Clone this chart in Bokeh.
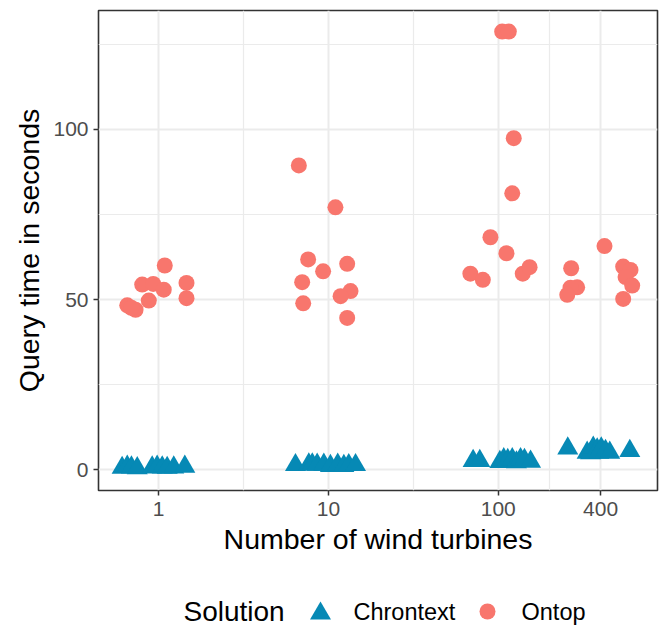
from bokeh.plotting import figure
from bokeh.models import Range1d, FixedTicker, PrintfTickFormatter
from bokeh.layouts import column
from bokeh.embed import file_html
from bokeh.resources import INLINE
from bokeh.core.properties import value

# ---------------- data ----------------
solutions = ["Chrontext", "Ontop"]
legend_title = "Solution"
turbine_ticks = [1, 10, 100, 400]
turbine_tick_labels = ["1", "10", "100", "400"]
y_ticks = [0, 50, 100]
y_tick_labels = ["0", "50", "100"]

# jittered x positions (number of wind turbines) and query times (s)
chrontext_x = [0.611, 0.655, 0.693, 0.750, 0.918, 0.982, 1.052, 1.125, 1.230, 1.429,
               6.40, 7.67, 8.04, 8.59, 9.40, 10.28, 11.35, 12.33, 13.18, 14.45,
               71.1, 77.8, 102.1, 107.7, 113.7, 120.8, 127.9, 135.2, 142.6, 154.9,
               256.4, 333.4, 349.1, 362.2, 381.9, 390.8, 403.6, 427.6, 452.9, 594.3]
chrontext_y = [0.6, 0.9, 0.7, 0.5, 0.7, 0.9, 0.7, 0.6, 0.7, 0.9,
               1.4, 1.6, 1.6, 1.5, 1.5, 1.15, 1.5, 1.15, 1.4, 1.4,
               2.6, 2.6, 2.3, 3.1, 2.9, 3.1, 2.2, 3.1, 2.9, 2.4,
               6.3, 5.05, 4.9, 6.5, 6.0, 5.0, 6.3, 5.55, 5.05, 5.55]

ontop_x = [1.089, 0.802, 0.931, 1.074, 1.462, 1.462, 0.877, 0.655, 0.733, 0.692,
           6.70, 11.0, 7.60, 12.9, 9.31, 7.01, 13.5, 11.8, 7.11, 12.9,
           105.4, 115.3, 123.3, 120.8, 89.9, 111.7, 68.5, 81.1, 139.3, 152.8,
           421.7, 268.5, 291.1, 266.1, 254.7, 543.3, 599.8, 561.0, 613.8, 543.3]
ontop_y = [60.0, 54.4, 54.6, 52.9, 54.9, 50.4, 49.7, 48.3, 47.0, 47.6,
           89.4, 77.1, 61.8, 60.5, 58.3, 55.1, 52.5, 51.0, 48.9, 44.6,
           128.7, 128.7, 97.4, 81.2, 68.3, 63.6, 57.6, 55.8, 57.6, 59.5,
           65.7, 59.2, 53.6, 53.5, 51.4, 59.7, 58.7, 56.6, 54.1, 50.2]

# ---------------- styling ----------------
FONT = "Liberation Sans"
C_CHRON = "#0689B5"
C_ONTOP = "#F8766D"
GRID = "#EBEBEB"
DARK = "#333333"

H_MAIN = 572
H_LEG = 633 - H_MAIN
LEFT, RIGHT_EDGE = 98, 657

p = figure(width=666, height=H_MAIN, x_axis_type="log",
           x_range=Range1d(10 ** -0.353, 10 ** 2.937),
           y_range=Range1d(-6.08, 134.9),
           output_backend="svg", toolbar_location=None,
           min_border_left=LEFT, min_border_right=666 - RIGHT_EDGE, min_border_top=10,
           min_border_bottom=H_MAIN - 490)

p.outline_line_color = DARK
p.outline_line_width = 1.6
p.background_fill_color = "white"
p.border_fill_color = "white"

xt = FixedTicker(ticks=turbine_ticks, minor_ticks=[10 ** 0.5, 10 ** 1.5, 200])
yt = FixedTicker(ticks=y_ticks, minor_ticks=[25, 75, 125])
p.xaxis.ticker = xt
p.yaxis.ticker = yt
p.xgrid.ticker = xt
p.ygrid.ticker = yt
p.xaxis.formatter = PrintfTickFormatter(format="%d")
p.xaxis.major_label_overrides = dict(zip(turbine_ticks, turbine_tick_labels))
p.yaxis.major_label_overrides = dict(zip(y_ticks, y_tick_labels))

for g in (p.xgrid, p.ygrid):
    g.grid_line_color = GRID
    g.grid_line_width = 2
    g.minor_grid_line_color = GRID
    g.minor_grid_line_width = 1.2

for ax in (p.xaxis, p.yaxis):
    ax.axis_line_color = None
    ax.major_tick_line_color = DARK
    ax.major_tick_line_width = 1.5
    ax.major_tick_out = 5
    ax.major_tick_in = 0
    ax.minor_tick_line_color = None
    ax.major_label_text_font = FONT
    ax.major_label_text_font_size = "21px"
    ax.major_label_text_color = "#4D4D4D"
    ax.axis_label_text_font = FONT
    ax.axis_label_text_font_size = "28.5px"
    ax.axis_label_text_font_style = "normal"
    ax.axis_label_text_color = "black"

p.xaxis.axis_label = "Number of wind turbines"
p.yaxis.axis_label = "Query time in seconds"
p.xaxis.major_label_standoff = 6
p.xaxis.axis_label_standoff = 4
p.yaxis.major_label_standoff = 5
p.yaxis.axis_label_standoff = 5

p.scatter(chrontext_x, chrontext_y, marker="triangle", size=21,
          fill_color=C_CHRON, line_color=None)
p.scatter(ontop_x, ontop_y, marker="circle", size=16,
          fill_color=C_ONTOP, line_color=None)

# ---------------- legend (separate strip, screen-pixel coordinates) ----------------
leg = figure(width=666, height=H_LEG, x_range=Range1d(LEFT, RIGHT_EDGE), y_range=Range1d(H_LEG, 0),
             output_backend="svg", toolbar_location=None,
             min_border_left=LEFT, min_border_right=666 - RIGHT_EDGE,
             min_border_top=0, min_border_bottom=0)
leg.axis.visible = False
leg.grid.visible = False
leg.outline_line_color = None
leg.background_fill_color = "white"
leg.border_fill_color = "white"

yc = 611 - H_MAIN
leg.text(x=[183], y=[yc], text=[legend_title], text_baseline="middle", text_align="left",
         text_font=value(FONT), text_font_size="28px", text_color="black")
leg.scatter(x=[320], y=[yc + 2], marker="triangle", size=21, fill_color=C_CHRON, line_color=None)
leg.text(x=[353], y=[yc], text=[solutions[0]], text_baseline="middle", text_align="left",
         text_font=value(FONT), text_font_size="23.5px", text_color="black")
leg.scatter(x=[487], y=[yc], marker="circle", size=16, fill_color=C_ONTOP, line_color=None)
leg.text(x=[521], y=[yc], text=[solutions[1]], text_baseline="middle", text_align="left",
         text_font=value(FONT), text_font_size="23.5px", text_color="black")

layout = column(p, leg, spacing=0)
open("out.html", "w").write(file_html(layout, INLINE))
